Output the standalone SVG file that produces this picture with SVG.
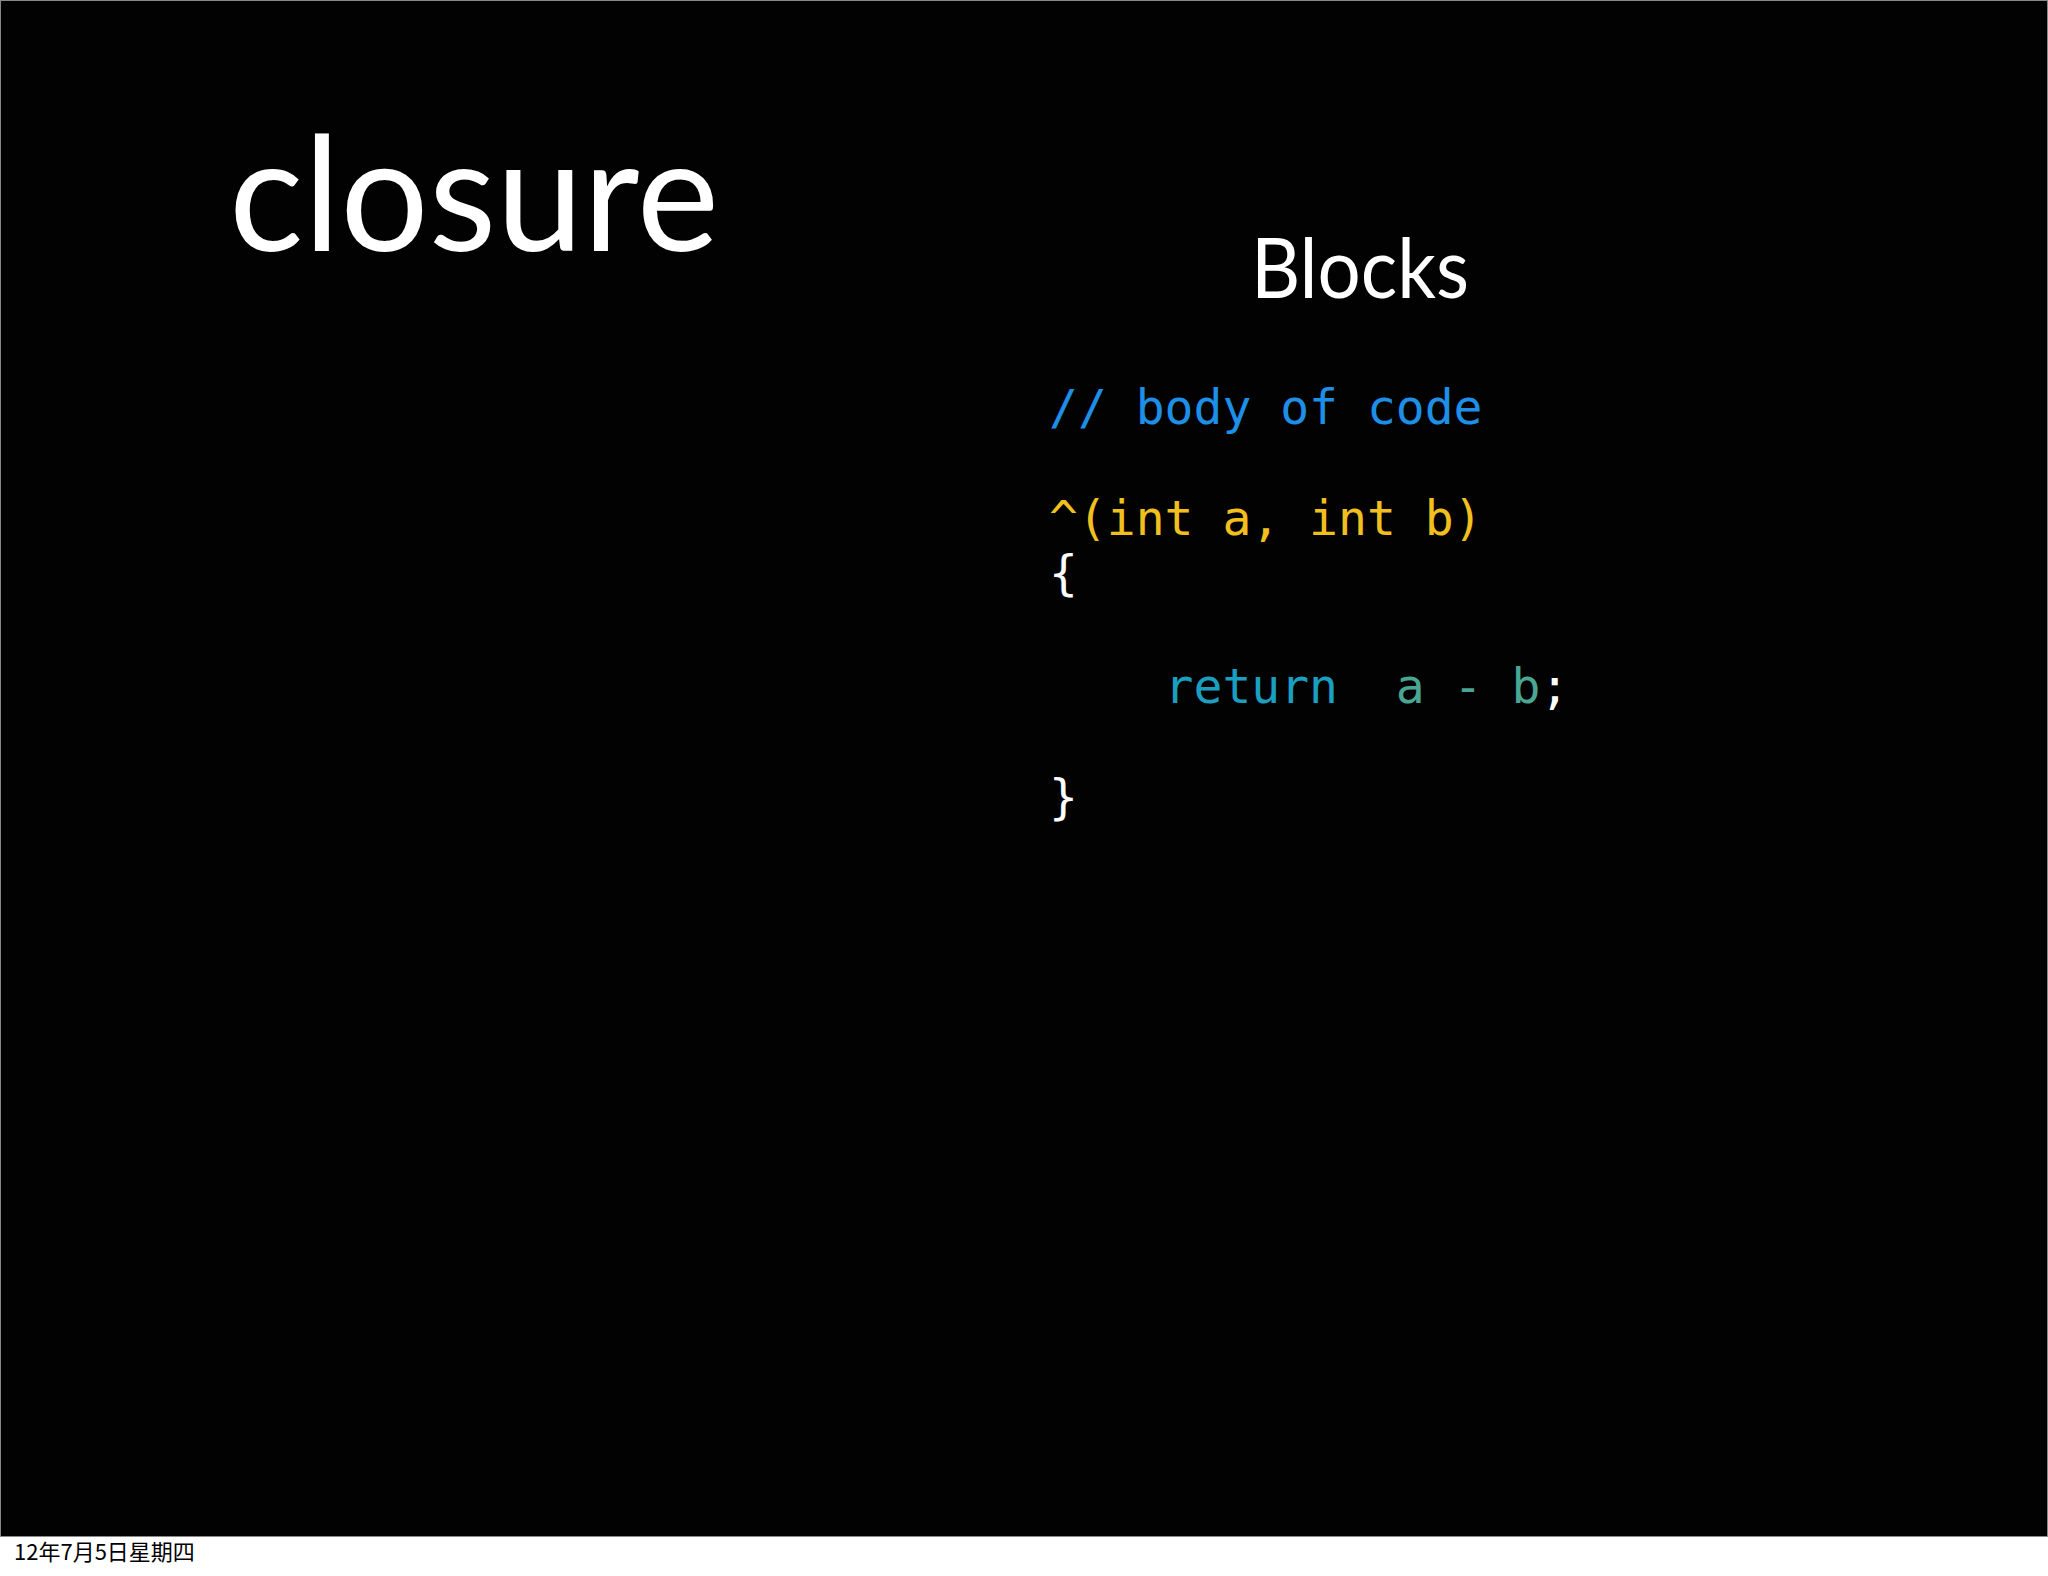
<svg xmlns="http://www.w3.org/2000/svg" width="2048" height="1576" viewBox="0 0 2048 1576">
<style>
.code{font-family:"DejaVu Sans Mono",monospace;font-size:48px;white-space:pre}
.title{font-family:"Lato","Open Sans",sans-serif;fill:#fff}
</style>
<rect width="2048" height="1576" fill="#fff"/>
<rect x="0.5" y="0.5" width="2047" height="1536" fill="#020203" stroke="#888" stroke-width="1"/>
<g id="title"><text class="title" x="229" y="251" font-size="160" textLength="490" lengthAdjust="spacingAndGlyphs">closure</text></g>
<g id="subtitle"><text class="title" x="1251" y="298" font-size="84" textLength="218" lengthAdjust="spacingAndGlyphs">Blocks</text></g>
<g id="code">
<text class="code" x="1049" y="424" fill="#1e8fe6">// body of code</text>
<text class="code" x="1049" y="535" fill="#f2c01e">^(int a, int b)</text>
<text class="code" x="1049" y="590" fill="#fff">{</text>
<text class="code" x="1049" y="703" xml:space="preserve"><tspan fill="#1a9fc0">    return</tspan><tspan fill="#4aa592">  a - b</tspan><tspan fill="#fff">;</tspan></text>
<text class="code" x="1049" y="814" fill="#fff">}</text>
</g>
<g id="footer"><text x="14" y="1560" font-family="Noto Sans CJK SC, sans-serif" font-size="22" fill="#000">12年7月5日星期四</text></g>
</svg>
